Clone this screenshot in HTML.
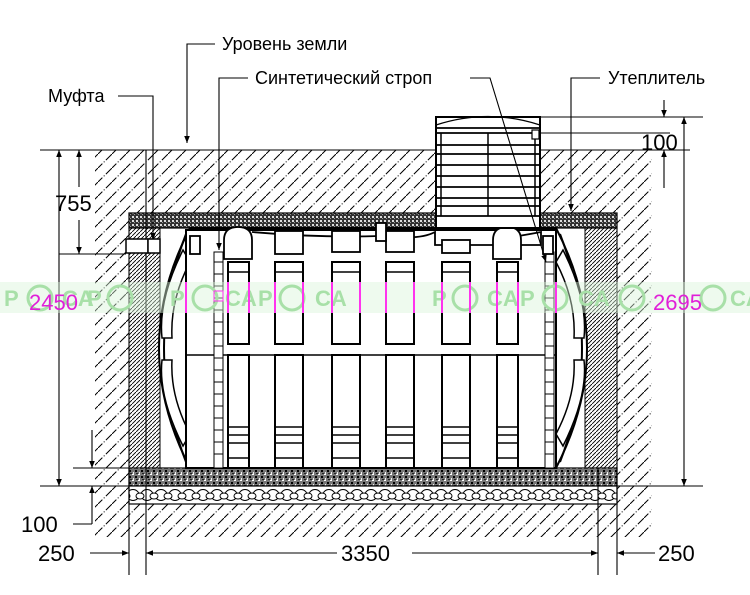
<!DOCTYPE html>
<html><head><meta charset="utf-8"><style>
body{margin:0;background:#fff;width:750px;height:595px;overflow:hidden}
svg{display:block}
text{font-family:"Liberation Sans",sans-serif}
</style></head><body>
<svg width="750" height="595" viewBox="0 0 750 595" xmlns="http://www.w3.org/2000/svg">
<defs>
<pattern id="soil" width="14" height="14" patternUnits="userSpaceOnUse">
<path d="M-2,16 L16,-2" stroke="#000" stroke-width="1" stroke-dasharray="9,2,1,2"/>
<path d="M-9,9 L9,-9 M5,23 L23,5" stroke="#000" stroke-width="1" stroke-dasharray="9,2,1,2"/>
</pattern>
<pattern id="dense" width="4" height="4" patternUnits="userSpaceOnUse">
<path d="M-1,5 L5,-1" stroke="#000" stroke-width="0.9"/>
</pattern>
<pattern id="ins" width="4" height="4" patternUnits="userSpaceOnUse">
<rect width="4" height="4" fill="#333"/><rect x="0" y="0" width="2" height="2" fill="#ddd"/><rect x="2" y="2" width="1" height="1" fill="#999"/>
</pattern>
<pattern id="sand" width="6" height="6" patternUnits="userSpaceOnUse">
<rect width="6" height="6" fill="#777"/><rect x="0" y="0" width="2" height="1" fill="#fff"/><rect x="3" y="2" width="2" height="2" fill="#000"/><rect x="1" y="4" width="1" height="2" fill="#eee"/><rect x="4" y="5" width="2" height="1" fill="#222"/>
</pattern>
<pattern id="grav" width="14" height="18" patternUnits="userSpaceOnUse" y="486">
<rect width="14" height="18" fill="#fff"/>
<ellipse cx="7" cy="9" rx="6" ry="5.5" fill="#fff" stroke="#000" stroke-width="1"/>
<ellipse cx="0" cy="10" rx="4" ry="3" fill="#fff" stroke="#000" stroke-width="1"/>
<ellipse cx="14" cy="10" rx="4" ry="3" fill="#fff" stroke="#000" stroke-width="1"/>
</pattern>
<marker id="a" viewBox="0 0 10 10" refX="10" refY="5" markerWidth="7" markerHeight="11" orient="auto-start-reverse" markerUnits="userSpaceOnUse"><path d="M0,1 L10,5 L0,9Z" fill="#000"/></marker>
</defs>

<rect x="95" y="150" width="557" height="387" fill="url(#soil)"/>
<rect x="129" y="213" width="488" height="291" fill="#fff"/>
<rect x="129" y="213" width="488" height="15" fill="url(#ins)" stroke="#000" stroke-width="1.2"/>
<rect x="435" y="200" width="106" height="30" fill="#fff"/>
<rect x="129" y="228" width="31" height="240" fill="url(#dense)" stroke="#000" stroke-width="1"/>
<rect x="585" y="228" width="32" height="240" fill="url(#dense)" stroke="#000" stroke-width="1"/>
<rect x="129" y="468" width="488" height="18" fill="url(#sand)" stroke="#000" stroke-width="1.2"/>
<rect x="129" y="486" width="488" height="18" fill="url(#grav)" stroke="#000" stroke-width="1.2"/>
<line x1="146" y1="150" x2="146" y2="575" stroke="#000" stroke-width="1.1"/>
<line x1="129" y1="228" x2="129" y2="575" stroke="#000" stroke-width="1.1"/>
<line x1="598" y1="468" x2="598" y2="575" stroke="#000" stroke-width="1.1"/>
<line x1="617" y1="228" x2="617" y2="575" stroke="#000" stroke-width="1.1"/>

<g stroke="#000" fill="#fff" stroke-width="2">
<path d="M190,228 Q128,348 190,468 L556,468 Q618,348 556,228 Z"/>
<path d="M186,234 Q142,348 186,462" fill="none"/>
<path d="M560,234 Q604,348 560,462" fill="none"/>
<path d="M183,250 Q158,300 162,338 L172,338 Q170,300 190,262Z" stroke-width="1.5"/>
<path d="M183,446 Q158,396 162,360 L172,360 Q170,396 190,434Z" stroke-width="1.5"/>
<path d="M563,250 Q588,300 584,338 L574,338 Q576,300 556,262Z" stroke-width="1.5"/>
<path d="M563,446 Q588,396 584,360 L574,360 Q576,396 556,434Z" stroke-width="1.5"/>
<rect x="186" y="230" width="370" height="238"/>
<line x1="186" y1="355" x2="556" y2="355" stroke-width="1.5"/>
</g>
<g stroke="#000" fill="#fff" stroke-width="1">
<rect x="214" y="252" width="9" height="216"/>
<rect x="545" y="252" width="9" height="216"/>
<path d="M214,262h9M214,274h9M214,286h9M214,298h9M214,310h9M214,322h9M214,334h9M214,346h9M214,358h9M214,370h9M214,382h9M214,394h9M214,406h9M214,418h9M214,430h9M214,442h9M214,454h9"/>
<path d="M545,262h9M545,274h9M545,286h9M545,298h9M545,310h9M545,322h9M545,334h9M545,346h9M545,358h9M545,370h9M545,382h9M545,394h9M545,406h9M545,418h9M545,430h9M545,442h9M545,454h9"/>
</g>
<g stroke="#000" fill="#fff" stroke-width="1.8">
<path d="M252,232 Q320,238 380,236 L390,236 Q420,240 435,232 L435,245 L541,245 L541,232 Q520,236 493,240" fill="none"/>
<rect x="275" y="231" width="28" height="23"/><rect x="332" y="231" width="28" height="21"/>
<rect x="386" y="231" width="28" height="21"/><rect x="442" y="240" width="28" height="13"/>
<rect x="376" y="223" width="10" height="18"/>
<rect x="190" y="236" width="10" height="18"/><rect x="543" y="236" width="10" height="18"/>
<path d="M224,259 V240 Q224,227 238,227 Q252,227 252,240 V259Z"/>
<path d="M493,259 V240 Q493,227 507,227 Q521,227 521,240 V259Z"/>
</g>
<g stroke="#000" fill="#fff" stroke-width="2">
<rect x="228" y="262" width="21" height="82"/><rect x="275" y="262" width="28" height="82"/>
<rect x="332" y="262" width="28" height="82"/><rect x="386" y="262" width="28" height="82"/>
<rect x="442" y="262" width="28" height="82"/><rect x="497" y="262" width="21" height="82"/>
<rect x="228" y="355" width="21" height="113"/><rect x="275" y="355" width="28" height="113"/>
<rect x="332" y="355" width="28" height="113"/><rect x="386" y="355" width="28" height="113"/>
<rect x="442" y="355" width="28" height="113"/><rect x="497" y="355" width="21" height="113"/>
<path d="M228,272h21M275,272h28M332,272h28M386,272h28M442,272h28M497,272h21" stroke-width="1.5"/>
<path d="M228,427h21M275,427h28M332,427h28M386,427h28M442,427h28M497,427h21 M228,435h21M275,435h28M332,435h28M386,435h28M442,435h28M497,435h21 M228,443h21M275,443h28M332,443h28M386,443h28M442,443h28M497,443h21 M228,458h21M275,458h28M332,458h28M386,458h28M442,458h28M497,458h21" stroke-width="1.5"/>
</g>
<g stroke="#000" fill="#fff" stroke-width="2">
<rect x="436" y="117" width="104" height="111"/>
<path d="M436,125 Q488,108 540,125" fill="none" stroke-width="1.2"/>
<path d="M436,128h104M436,133h104M436,145h104M436,154h104M436,165h104M436,176h104M436,187h104M436,198h104M436,206h104M436,216h104" stroke-width="1.8"/>
<path d="M488,133v83M441,133v83M535,133v83" stroke-width="1.5"/>
<rect x="532" y="130" width="7" height="9" stroke-width="1.2"/>
</g>

<g stroke="#000" stroke-width="1.1" fill="none">
<path d="M215,44 H187 V143" marker-end="url(#a)"/>
<path d="M248,78 H219 V250" marker-end="url(#a)"/>
<path d="M470,78 H490 L546,262" marker-end="url(#a)"/>
<path d="M600,78 H571 V211" marker-end="url(#a)"/>
<path d="M118,96 H153 V240" marker-end="url(#a)"/>
</g>
<rect x="126" y="239" width="22" height="14" fill="#fff" stroke="#000" stroke-width="1.5"/>
<rect x="148" y="239" width="12" height="14" fill="#fff" stroke="#000" stroke-width="1.5"/>

<g stroke="#000" stroke-width="1.1" fill="none">
<line x1="40" y1="150" x2="435" y2="150"/><line x1="541" y1="150" x2="690" y2="150"/>
<line x1="59" y1="254" x2="126" y2="254"/>
<line x1="40" y1="486" x2="129" y2="486"/><line x1="73" y1="468" x2="129" y2="468"/>
<line x1="617" y1="486" x2="703" y2="486"/>
<line x1="541" y1="117" x2="703" y2="117"/><line x1="541" y1="133" x2="670" y2="133"/>
<line x1="59" y1="150" x2="59" y2="486" marker-start="url(#a)" marker-end="url(#a)"/>
<line x1="79" y1="150" x2="79" y2="187" marker-start="url(#a)"/>
<line x1="79" y1="220" x2="79" y2="254" marker-end="url(#a)"/>
<line x1="92" y1="430" x2="92" y2="468" marker-end="url(#a)"/>
<line x1="92" y1="486" x2="92" y2="524" marker-start="url(#a)"/>
<line x1="73" y1="524" x2="92" y2="524"/>
<line x1="684" y1="117" x2="684" y2="486" marker-start="url(#a)" marker-end="url(#a)"/>
<line x1="664" y1="100" x2="664" y2="117" marker-end="url(#a)"/>
<line x1="664" y1="150" x2="664" y2="188" marker-start="url(#a)"/>
<line x1="90" y1="553" x2="129" y2="553" marker-end="url(#a)"/>
<line x1="146" y1="553" x2="337" y2="553" marker-start="url(#a)"/>
<line x1="412" y1="553" x2="598" y2="553" marker-end="url(#a)"/>
<line x1="617" y1="553" x2="655" y2="553" marker-start="url(#a)"/>
</g>

<rect x="0" y="282" width="750" height="31" fill="#d9f5d9" opacity="0.45"/>
<g fill="#a8e0a8" font-size="22" font-weight="bold">
<text x="4" y="306">P</text><text x="62" y="306">CA</text><text x="87" y="306">P</text>
<text x="170" y="306">P</text><text x="225" y="306">CA</text>
<text x="258" y="306">P</text><text x="315" y="306">CA</text>
<text x="432" y="306">P</text><text x="487" y="306">CA</text>
<text x="520" y="306">P</text><text x="578" y="306">CA</text>
<text x="730" y="306">CA</text>
</g>
<g fill="none" stroke="#a8e0a8" stroke-width="3">
<circle cx="40" cy="298" r="12"/><circle cx="120" cy="298" r="12"/><circle cx="205" cy="298" r="12"/>
<circle cx="292" cy="298" r="12"/><circle cx="465" cy="298" r="12"/><circle cx="555" cy="298" r="12"/>
<circle cx="632" cy="298" r="12"/><circle cx="713" cy="298" r="12"/>
</g>
<g stroke="#ff33ee" stroke-width="2">
<path d="M228,282v31M249,282v31M275,282v31M303,282v31M332,282v31M360,282v31M386,282v31M414,282v31M442,282v31M470,282v31M497,282v31M518,282v31M186,282v31M556,282v31"/>
</g>
<rect x="214" y="291" width="9" height="10" fill="none" stroke="#ff33ee" stroke-width="1"/>

<g font-size="18" fill="#000">
<text x="222" y="50">Уровень земли</text>
<text x="255" y="84">Синтетический строп</text>
<text x="608" y="84">Утеплитель</text>
<text x="48" y="102">Муфта</text>
</g>
<g font-size="22" fill="#000">
<text x="55" y="211">755</text>
<text x="641" y="150">100</text>
<text x="21" y="532">100</text>
<text x="38" y="561">250</text>
<text x="341" y="561">3350</text>
<text x="658" y="561">250</text>
</g>
<g font-size="22" fill="#e020d8">
<text x="29" y="310">2450</text>
<text x="653" y="310">2695</text>
</g>
</svg>
</body></html>
